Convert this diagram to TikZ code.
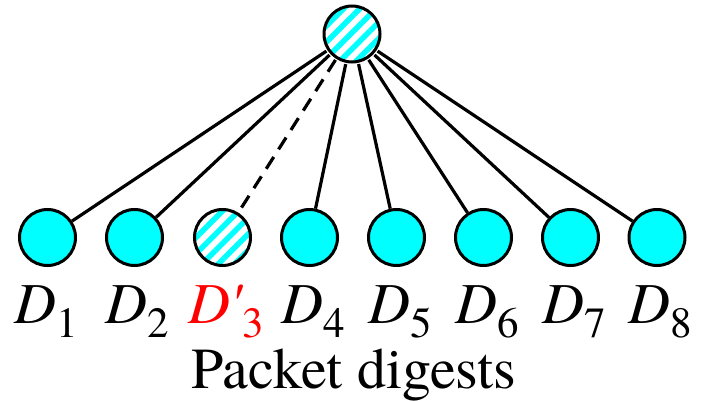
\documentclass[tikz,border=0pt]{standalone}
\usepackage{fontspec}
\setmainfont{TeX Gyre Termes}
\newfontfamily\primefont{TeX Gyre Termes}
\usetikzlibrary{patterns.meta}

\definecolor{digcyan}{RGB}{0,255,255}
\newcommand\digsub[1]{\raisebox{-14pt}{\fontsize{43}{45}\selectfont #1}}
\newcommand\digprime{{\primefont\itshape\char"27}}

\tikzset{
  digest/.style={circle,draw,line width=3pt,fill=digcyan,minimum size=56pt,inner sep=0pt},
  hatched/.style={circle,draw,line width=3pt,minimum size=56pt,inner sep=0pt,
    preaction={fill=white},
    pattern={Lines[angle=45,distance=11.5pt,line width=5.5pt]},pattern color=digcyan},
  link/.style={line width=3.2pt},
  lbl/.style={anchor=base,inner sep=0pt,font=\fontsize{58}{62}\selectfont}
}

\begin{document}
\begin{tikzpicture}[x=1pt,y=-1pt]
\useasboundingbox (0,0) rectangle (702,401);

\node[hatched] (root) at (352,34) {};

\node[digest]  (d1) at (47.5,237.5) {};
\node[digest]  (d2) at (134.5,237.5) {};
\node[hatched] (d3) at (222.5,237.5) {};
\node[digest]  (d4) at (309.5,237.5) {};
\node[digest]  (d5) at (396.5,237.5) {};
\node[digest]  (d6) at (483.5,237.5) {};
\node[digest]  (d7) at (570.5,237.5) {};
\node[digest]  (d8) at (657,237.5) {};

\foreach \i in {1,2,4,5,6,7,8}
  \draw[link] (root) -- (d\i);
\draw[link,dash pattern=on 14pt off 9pt] (root) -- (d3);

\node[lbl] (l1) at (46,323) {\textit{D}\digsub{1}};
\node[lbl] (l2) at (137,323) {\textit{D}\digsub{2}};
\node[lbl,red] (l3) at (226,323) {\textit{D}\digprime\digsub{3}};
\node[lbl] (l4) at (313,323) {\textit{D}\digsub{4}};
\node[lbl] (l5) at (400,323) {\textit{D}\digsub{5}};
\node[lbl] (l6) at (487,323) {\textit{D}\digsub{6}};
\node[lbl] (l7) at (574,323) {\textit{D}\digsub{7}};
\node[lbl] (l8) at (660,323) {\textit{D}\digsub{8}};

\node[lbl] (caption) at (354,388) {Packet digests};
\end{tikzpicture}
\end{document}
